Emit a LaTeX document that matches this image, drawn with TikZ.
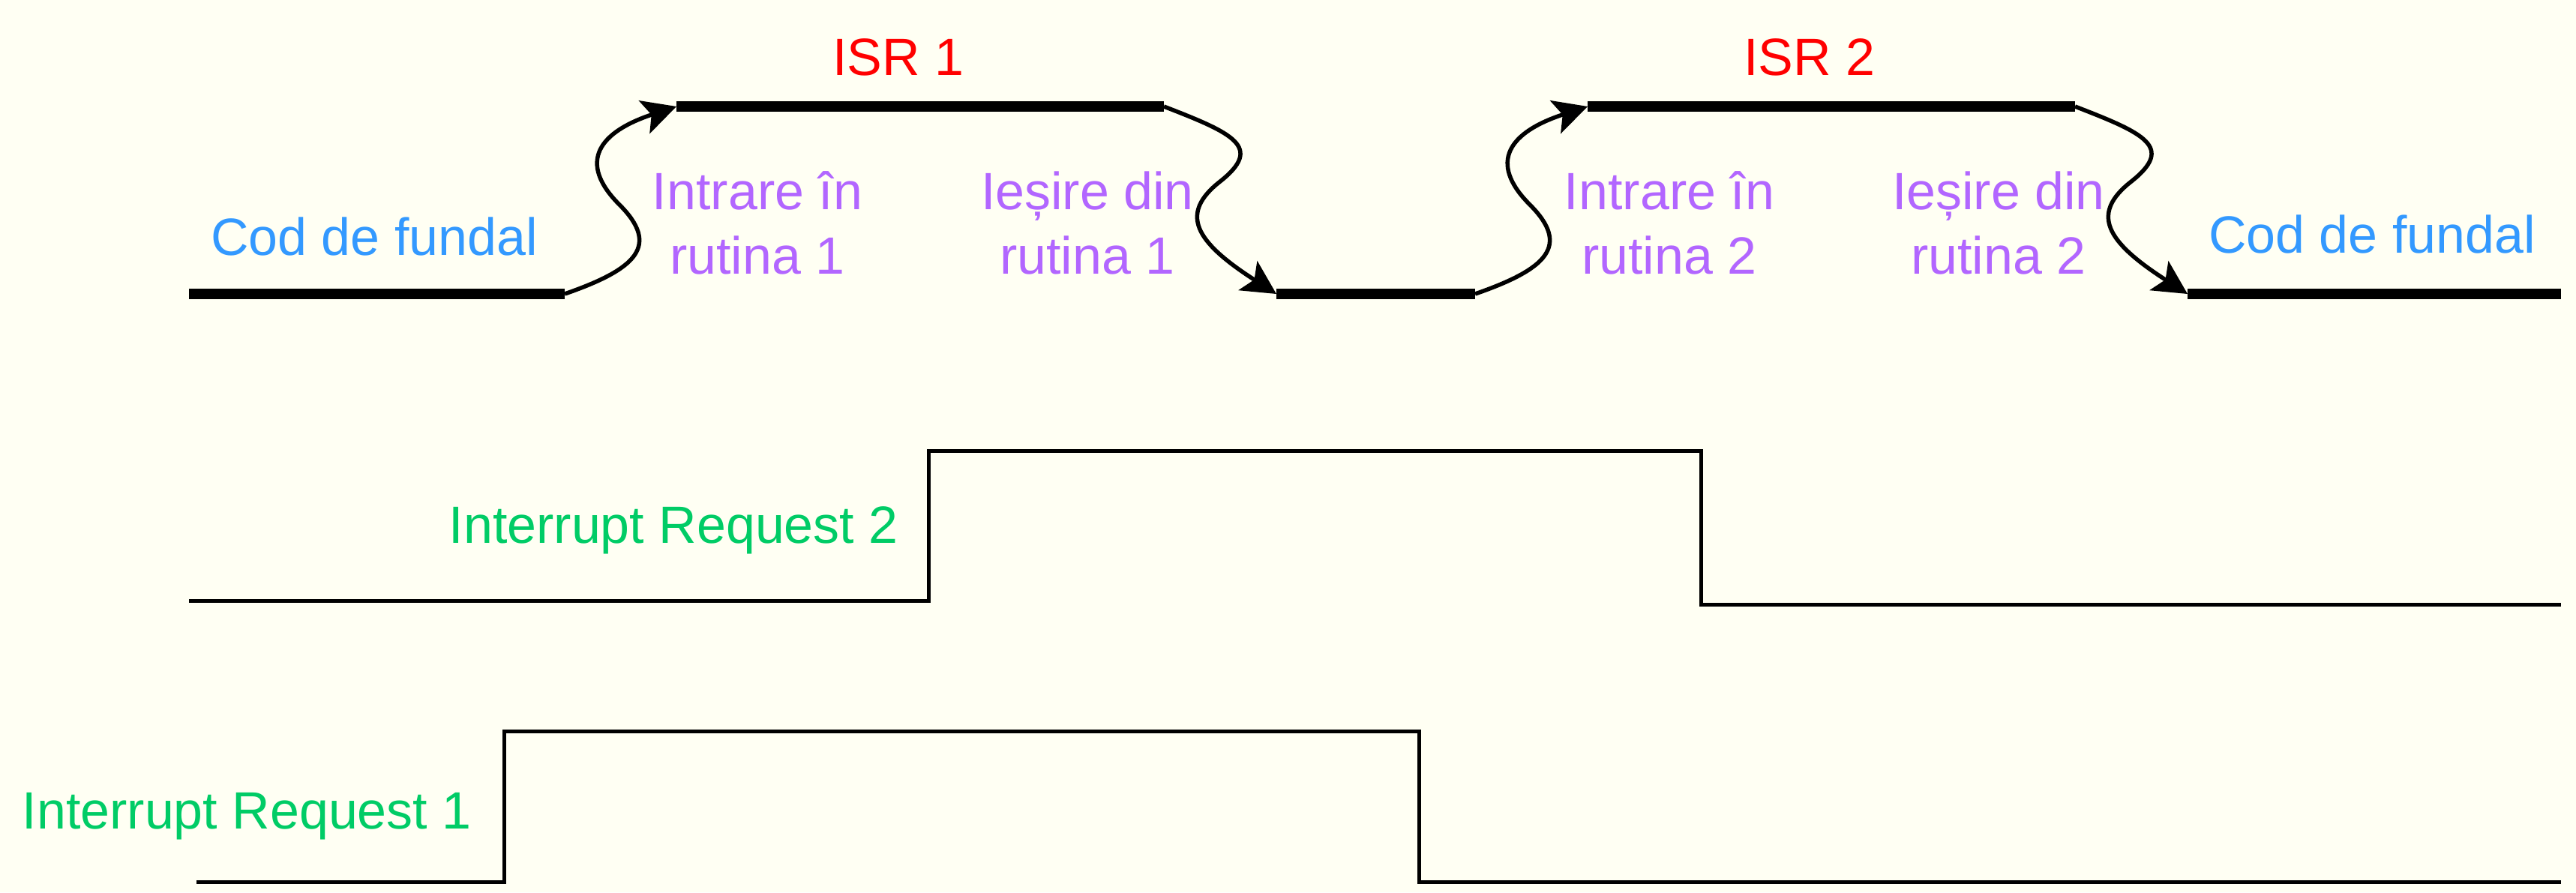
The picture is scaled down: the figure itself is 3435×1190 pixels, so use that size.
\documentclass[tikz,border=0pt]{standalone}
\usepackage{fontspec}
\setmainfont{Liberation Sans}
\usetikzlibrary{arrows.meta,positioning}

\definecolor{bgcol}{RGB}{255,255,243}
\definecolor{codblue}{RGB}{51,153,255}
\definecolor{isrred}{RGB}{255,0,0}
\definecolor{rutpurple}{RGB}{178,102,255}
\definecolor{irqgreen}{RGB}{0,204,102}

\begin{document}
\begin{tikzpicture}[x=0.01cm, y=-0.01cm,
  lbl/.style={inner sep=0pt, align=center, font={\fontsize{19.9pt}{24.2pt}\selectfont}},
  bar/.style={line width=0.14cm},
  sig/.style={line width=0.05cm},
  flow/.style={line width=0.055cm, -{Stealth[length=0.45cm, width=0.46cm, inset=0.1cm]}}]
  \fill[bgcol] (0,0) rectangle (3435,1190);
  \useasboundingbox (0,0) rectangle (3435,1190);

  % program flow
  \coordinate (cod1s) at (252,392);
  \coordinate (cod1e) at (753,392);
  \coordinate (isr1s) at (902,142);
  \coordinate (isr1e) at (1552,142);
  \coordinate (mids) at (1702,392);
  \coordinate (mide) at (1967,392);
  \coordinate (isr2s) at (2117,142);
  \coordinate (isr2e) at (2767,142);
  \coordinate (cod2s) at (2917,392);
  \coordinate (cod2e) at (3415,392);

  \draw[bar] (cod1s) -- (cod1e);
  \draw[bar] (isr1s) -- (isr1e);
  \draw[bar] (mids) -- (mide);
  \draw[bar] (isr2s) -- (isr2e);
  \draw[bar] (cod2s) -- (cod2e);

  \draw[flow] (cod1e) .. controls +(95,-33) and +(55,55) .. ++(73,-119)
    .. controls +(-57,-57) and +(-103,34) .. (isr1s);
  \draw[flow] (isr1e) .. controls +(93,36) and +(58,-46) .. ++(75,100)
    .. controls +(-55,43) and +(-109,-70) .. (mids);
  \draw[flow] (mide) .. controls +(95,-33) and +(55,55) .. ++(73,-119)
    .. controls +(-57,-57) and +(-104,34) .. (isr2s);
  \draw[flow] (isr2e) .. controls +(93,36) and +(58,-46) .. ++(75,100)
    .. controls +(-55,43) and +(-109,-70) .. (cod2s);

  \node[lbl, text=codblue, anchor=base] (codl) at (499,340) {Cod de fundal};
  \node[lbl, text=codblue, anchor=base] (codr) at (3163,337) {Cod de fundal};
  \node[lbl, text=isrred, anchor=base] (isr1) at (1198,100) {ISR 1};
  \node[lbl, text=isrred, anchor=base] (isr2) at (2413,100) {ISR 2};
  \node[lbl, text=rutpurple, anchor=base] (intr1) at (1010,365) {Intrare în\\rutina 1};
  \node[lbl, text=rutpurple, anchor=base] (ies1) at (1450,365) {Ieșire din\\rutina 1};
  \node[lbl, text=rutpurple, anchor=base] (intr2) at (2226,365) {Intrare în\\rutina 2};
  \node[lbl, text=rutpurple, anchor=base] (ies2) at (2665,365) {Ieșire din\\rutina 2};

  % interrupt lines
  \coordinate (q2a) at (252,801);
  \coordinate (q2b) at (1238,801);
  \coordinate (q2c) at (1238,601);
  \coordinate (q2d) at (2268,601);
  \coordinate (q2e) at (2268,806);
  \coordinate (q2f) at (3415,806);
  \draw[sig] (q2a) -- (q2b) -- (q2c) -- (q2d) -- (q2e) -- (q2f);

  \coordinate (q1a) at (262,1176);
  \coordinate (q1b) at (672,1176);
  \coordinate (q1c) at (672,975);
  \coordinate (q1d) at (1892,975);
  \coordinate (q1e) at (1892,1176);
  \coordinate (q1f) at (3415,1176);
  \draw[sig] (q1a) -- (q1b) -- (q1c) -- (q1d) -- (q1e) -- (q1f);

  \node[lbl, text=irqgreen, anchor=base west] (irq2lbl) at (598,724) {Interrupt Request 2};
  \node[lbl, text=irqgreen, anchor=base west] (irq1lbl) at (29,1105) {Interrupt Request 1};
\end{tikzpicture}
\end{document}
